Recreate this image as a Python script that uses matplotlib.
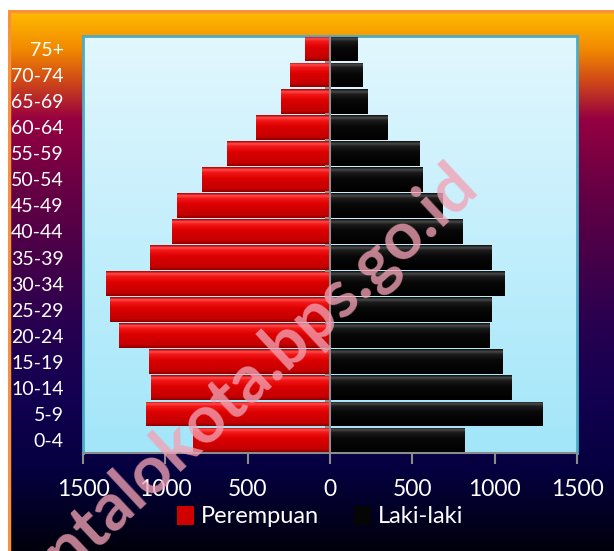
import numpy as np
import matplotlib
matplotlib.use("Agg")
import matplotlib.pyplot as plt
from matplotlib.colors import LinearSegmentedColormap

plt.rcParams['font.family'] = ['Lato', 'DejaVu Sans']

groups = ['0-4', '5-9', '10-14', '15-19', '20-24', '25-29', '30-34', '35-39',
          '40-44', '45-49', '50-54', '55-59', '60-64', '65-69', '70-74', '75+']
perempuan = [831, 1120, 1085, 1101, 1282, 1334, 1362, 1092,
             959, 931, 777, 627, 449, 295, 243, 153]
laki = [815, 1289, 1104, 1045, 971, 978, 1061, 978,
        807, 681, 563, 544, 350, 226, 196, 165]
xticks = [-1500, -1000, -500, 0, 500, 1000, 1500]

W, H = 614, 551
fig = plt.figure(figsize=(W / 100, H / 100), dpi=100)
fig.patch.set_facecolor('white')

# chart area background gradient
bg = fig.add_axes([8 / W, 0, 1 - 8 / W, 1 - 10 / H], zorder=-5)
bg_cmap = LinearSegmentedColormap.from_list('bg', [
    (0.00, '#ffbc00'), (0.07, '#f28a00'), (0.13, '#d04818'),
    (0.20, '#960040'), (0.32, '#6a0044'), (0.45, '#480048'),
    (0.58, '#280050'), (0.72, '#120050'), (0.85, '#050040'),
    (1.00, '#00000c')])
bg.imshow(np.linspace(0, 1, 256).reshape(-1, 1), cmap=bg_cmap, aspect='auto',
          extent=[0, 1, 0, 1])
bg.set_xlim(0, 1)
bg.set_ylim(0, 1)
bg.axis('off')
bg.plot([0.0015, 0.0015, 1], [0, 0.999, 0.999], color='#f7923a', lw=2.5)

ax = fig.add_axes([83 / W, 1 - 453 / H, (577 - 83) / W, (453 - 36) / H])
ax.set_facecolor('none')
y = np.arange(len(groups))

# plot area gradient
pa_cmap = LinearSegmentedColormap.from_list('pa', ['#a2e6f9', '#e2f7fe'])
ax.imshow(np.linspace(0, 1, 256).reshape(-1, 1), cmap=pa_cmap, aspect='auto',
          origin='lower', extent=[-1500, 1500, -0.5, 15.5], zorder=0)

red_cmap = LinearSegmentedColormap.from_list('red', [
    (0, '#8a0000'), (0.12, '#c40000'), (0.55, '#dc0000'),
    (0.8, '#f41818'), (0.9, '#ff4c4c'), (1, '#b00000')])
blk_cmap = LinearSegmentedColormap.from_list('blk', [
    (0, '#000000'), (0.55, '#080808'), (0.8, '#1c1c1c'),
    (0.9, '#4a4a4a'), (1, '#101010')])

bars_f = ax.barh(y, [-v for v in perempuan], height=0.95, color='#d00000',
                 label='Perempuan', zorder=2)
bars_m = ax.barh(y, laki, height=0.95, color='#050505', left=0,
                 label='Laki-laki', zorder=2)
grad = np.linspace(0, 1, 64).reshape(-1, 1)
for bars, cm in ((bars_f, red_cmap), (bars_m, blk_cmap)):
    for p in bars:
        x0, y0, w, h = p.get_x(), p.get_y(), p.get_width(), p.get_height()
        im = ax.imshow(grad, cmap=cm, aspect='auto', origin='lower',
                       extent=[x0, x0 + w, y0, y0 + h], zorder=3)
        im.set_clip_path(p)

ax.axvline(0, color='#8c8c8c', lw=1.5, zorder=4)
ax.hlines(y[:-1] + 0.5, -30, 0, color='#8c8c8c', lw=1.5, zorder=4)

ax.set_xlim(-1500, 1500)
ax.set_ylim(-0.5, 15.5)
ax.set_yticks(y)
ax.set_yticklabels(groups)
ax.tick_params(axis='y', length=0, pad=14, labelcolor='white', labelsize=14)
ax.set_xticks(xticks)
ax.set_xticklabels([str(abs(v)) for v in xticks])
ax.tick_params(axis='x', length=8, width=1.5, color='#8c8c8c', pad=11,
               labelcolor='white', labelsize=16.5)
for s in ax.spines.values():
    s.set_color('#4bacc6')
    s.set_linewidth(2)
ax.spines['bottom'].set_color('#8c8c8c')
ax.spines['bottom'].set_linewidth(1.5)

leg = ax.legend(loc='upper center', bbox_to_anchor=(0.48, -0.075), ncol=2,
                frameon=False, fontsize=17, labelcolor='white',
                handlelength=0.7, handleheight=0.9, handletextpad=0.3,
                columnspacing=1.5)

# watermark
fig.text(481 / W, 1 - 191 / H, 'gorontalokota.bps.go.id', fontsize=48,
         fontweight='bold', color='#f2a2b4', alpha=0.78, rotation=43,
         rotation_mode='anchor', ha='right', va='baseline', zorder=10)

fig.savefig('out.png', dpi=100)
